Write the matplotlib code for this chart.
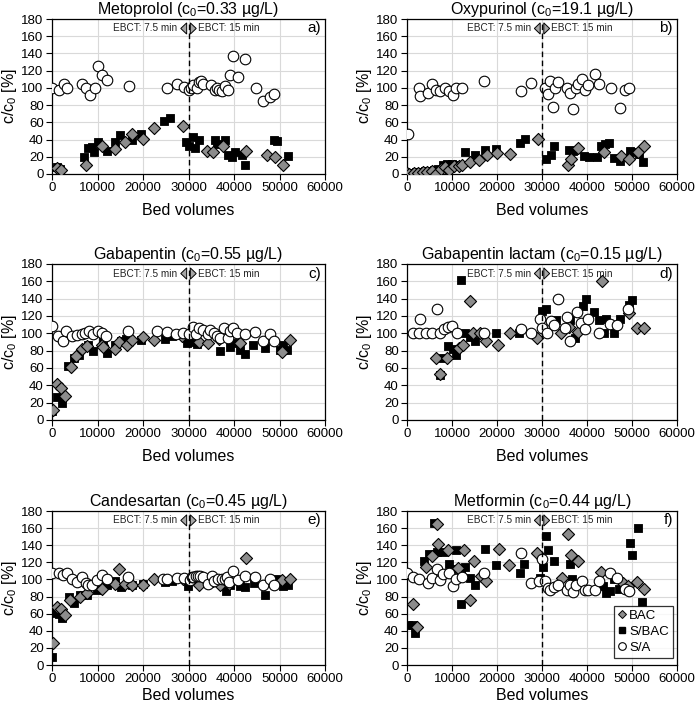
import matplotlib
matplotlib.use("Agg")
import matplotlib.pyplot as plt
from matplotlib.patches import Polygon
from matplotlib.lines import Line2D

plt.rcParams['font.family'] = ['Liberation Sans', 'DejaVu Sans']
plt.rcParams['mathtext.fontset'] = 'custom'
plt.rcParams['mathtext.rm'] = 'Liberation Sans'
plt.rcParams['mathtext.it'] = 'Liberation Sans:italic'

# ---------------- data ----------------
titles = ["Metoprolol (c$_0$=0.33 µg/L)", "Oxypurinol (c$_0$=19.1 µg/L)",
          "Gabapentin (c$_0$=0.55 µg/L)", "Gabapentin lactam (c$_0$=0.15 µg/L)",
          "Candesartan (c$_0$=0.45 µg/L)", "Metformin (c$_0$=0.44 µg/L)"]
panel_labels = ["a)", "b)", "c)", "d)", "e)", "f)"]
series_names = ["BAC", "S/BAC", "S/A"]

# a) Metoprolol
a_sa_x = [0, 1500, 2600, 3200, 6500, 7400, 8300, 9500, 10000, 11000, 12000, 17000, 25200, 27400, 29000, 30000, 30500, 31000, 31800, 32400, 32700, 33200, 35000, 35800, 36300, 36700, 37300, 38000, 38700, 39100, 39800, 40900, 42400, 44800, 46300, 47900, 48900]
a_sa_y = [100, 97, 104, 100, 105, 100, 92, 100, 126, 115, 109, 102, 100, 105, 101, 98, 100, 103, 100, 107, 108, 105, 103, 98, 100, 97, 96, 102, 97, 115, 137, 113, 133, 100, 85, 89, 93]
a_bac_x = [1000, 2000, 7400, 10900, 13800, 16000, 17500, 20000, 22500, 28700, 34100, 35400, 37600, 42600, 47200, 49000, 50700]
a_bac_y = [7, 5, 10, 33, 29, 37, 46, 41, 53, 56, 27, 26, 32, 27, 22, 20, 10]
a_sbac_x = [1100, 1700, 7000, 7900, 8900, 9200, 10000, 12000, 13800, 15000, 17500, 19500, 24700, 26000, 29400, 30100, 31000, 31500, 32300, 35800, 36200, 38000, 38700, 39500, 40200, 41800, 42500, 48900, 49400, 51900]
a_sbac_y = [8, 6, 20, 30, 31, 26, 37, 27, 37, 45, 40, 47, 61, 65, 37, 33, 43, 30, 40, 40, 35, 40, 22, 20, 26, 22, 10, 40, 38, 21]

# b) Oxypurinol
b_sa_x = [200, 2600, 3000, 4600, 5600, 6500, 7400, 8400, 9300, 10200, 10900, 12200, 17000, 25400, 27600, 30700, 31300, 31800, 32400, 32800, 33500, 35600, 36200, 36900, 37600, 38100, 38900, 39600, 40200, 41700, 42700, 45300, 47400, 48400, 49300]
b_sa_y = [47, 100, 91, 94, 105, 98, 96, 100, 96, 92, 100, 100, 108, 96, 106, 100, 93, 108, 78, 100, 107, 100, 94, 75, 100, 105, 110, 98, 103, 116, 105, 100, 77, 97, 100]
b_bac_x = [0, 500, 1500, 2500, 3500, 4500, 5500, 6400, 7500, 8500, 9300, 10500, 11500, 12200, 14000, 16100, 17800, 20000, 22800, 29100, 35800, 36500, 38100, 43700, 47600, 49400, 51300, 52600]
b_bac_y = [1, 0, 1, 1, 2, 2, 3, 0, 6, 8, 5, 9, 9, 10, 14, 16, 22, 24, 23, 41, 11, 17, 30, 25, 21, 18, 26, 32]
b_sbac_x = [0, 1000, 2000, 3000, 4000, 5000, 6000, 7000, 8000, 9000, 10000, 11000, 12800, 15200, 17400, 19700, 25000, 26300, 30900, 31900, 32600, 35900, 36800, 39300, 40400, 42200, 43200, 44100, 44800, 46100, 47400, 49600, 50600, 51500, 52400]
b_sbac_y = [1, 1, 2, 2, 3, 4, 5, 6, 10, 12, 12, 10, 25, 22, 28, 29, 36, 41, 17, 22, 33, 28, 27, 21, 20, 20, 32, 35, 36, 19, 15, 27, 25, 23, 14]

# c) Gabapentin
c_sa_x = [0, 1300, 2400, 3000, 4500, 5500, 6500, 7200, 8100, 9000, 10000, 10900, 11800, 16700, 23000, 25200, 27200, 28700, 30000, 30900, 31600, 32400, 33100, 34300, 34700, 35700, 36200, 36900, 37800, 38600, 39100, 39800, 40700, 42500, 44700, 46400, 47900, 48800]
c_sa_y = [108, 97, 91, 103, 97, 98, 99, 100, 103, 99, 103, 100, 97, 103, 103, 101, 99, 100, 99, 107, 99, 106, 104, 99, 104, 100, 97, 95, 106, 95, 103, 106, 100, 99, 102, 91, 99, 91]
c_bac_x = [200, 1100, 1900, 2800, 4100, 5200, 6700, 7700, 10900, 11200, 13800, 14700, 16400, 17500, 20000, 22400, 28500, 32300, 34200, 36600, 41300, 50500, 52300]
c_bac_y = [11, 42, 37, 28, 61, 74, 82, 85, 87, 84, 82, 90, 87, 92, 96, 92, 97, 90, 89, 93, 89, 78, 92]
c_sbac_x = [0, 1000, 2200, 3500, 4800, 6000, 7900, 9000, 11200, 12000, 13800, 15200, 16200, 19600, 24800, 26300, 29700, 30700, 31800, 36900, 39100, 40200, 41300, 42400, 44200, 46800, 50000, 50700, 51600]
c_sbac_y = [10, 26, 20, 62, 71, 75, 87, 80, 91, 77, 86, 91, 93, 92, 94, 97, 89, 90, 88, 80, 84, 89, 81, 76, 87, 83, 81, 87, 81]

# d) Gabapentin lactam
d_sa_x = [1300, 2600, 3000, 4300, 5600, 6700, 7400, 8300, 9100, 10000, 11100, 17000, 25400, 27600, 29500, 30100, 31100, 31900, 32600, 33500, 35000, 35600, 36200, 37800, 38700, 39600, 40200, 42600, 45000, 46700, 49100]
d_sa_y = [100, 100, 117, 100, 100, 128, 100, 105, 107, 109, 100, 100, 105, 100, 116, 106, 100, 114, 110, 140, 106, 119, 91, 125, 112, 105, 116, 100, 111, 110, 128]
d_bac_x = [6400, 7400, 8900, 11500, 12400, 13900, 14600, 16300, 17600, 20200, 22800, 28900, 34200, 36100, 38100, 43300, 49400, 51100, 52700]
d_bac_y = [71, 53, 72, 83, 87, 137, 100, 100, 91, 87, 100, 95, 100, 107, 102, 160, 124, 106, 106]
d_sbac_x = [7400, 8000, 9100, 10200, 10900, 12000, 13000, 14100, 15200, 19800, 24800, 30100, 30900, 33100, 36200, 37400, 39100, 39800, 41600, 42700, 43700, 44200, 46100, 47400, 49300, 50000]
d_sbac_y = [52, 72, 85, 82, 75, 162, 100, 96, 91, 100, 100, 126, 128, 115, 115, 95, 131, 140, 125, 115, 100, 117, 100, 116, 133, 139]

# e) Candesartan
e_sa_x = [0, 1500, 2400, 3200, 4300, 5500, 6500, 7400, 7900, 8900, 9900, 10900, 12000, 16700, 24400, 25200, 27400, 29000, 30300, 30700, 31000, 31600, 32100, 32500, 33100, 34300, 35200, 35700, 36400, 37300, 38000, 38400, 38900, 39800, 40900, 42400, 44700, 46300, 47900, 48800]
e_sa_y = [107, 107, 105, 107, 101, 97, 103, 96, 93, 94, 99, 105, 101, 103, 101, 101, 102, 102, 99, 103, 103, 104, 104, 104, 103, 95, 104, 98, 101, 100, 101, 103, 97, 110, 99, 104, 103, 94, 101, 93]
e_bac_x = [200, 1100, 1900, 2800, 3900, 6100, 7700, 10900, 13800, 14700, 16000, 17500, 19900, 22400, 28700, 32300, 35400, 36900, 38900, 42700, 50500, 52200]
e_bac_y = [26, 68, 66, 59, 76, 80, 84, 89, 95, 112, 95, 93, 94, 101, 101, 93, 98, 93, 95, 125, 99, 101]
e_sbac_x = [0, 700, 1500, 2200, 3700, 4800, 6200, 7600, 9800, 12000, 13800, 15100, 17500, 20000, 24800, 26300, 29900, 32300, 38200, 39100, 41300, 42500, 44300, 46800, 49200, 50700, 51900]
e_sbac_y = [9, 61, 60, 55, 80, 73, 82, 82, 88, 94, 98, 91, 94, 95, 97, 98, 92, 97, 87, 94, 92, 91, 96, 82, 101, 92, 94]

# f) Metformin
f_sa_x = [0, 1300, 2600, 4600, 5600, 6700, 7400, 8100, 9400, 10200, 10900, 12200, 17000, 25400, 27600, 29300, 30100, 30700, 31300, 31800, 32600, 33500, 35600, 36200, 36900, 37600, 38900, 39600, 40200, 41700, 42700, 45200, 46700, 48400, 49300]
f_sa_y = [107, 103, 101, 96, 102, 112, 99, 106, 107, 92, 101, 103, 107, 131, 96, 98, 124, 98, 90, 88, 91, 93, 88, 94, 85, 93, 98, 88, 88, 88, 98, 108, 102, 89, 87]
f_bac_x = [1300, 2200, 4200, 5600, 6700, 7000, 9100, 11300, 12600, 13900, 14800, 16500, 17600, 20400, 22700, 28900, 34400, 35800, 36400, 38000, 43100, 47900, 49100, 51000, 52700]
f_bac_y = [71, 45, 114, 127, 165, 142, 134, 113, 134, 76, 122, 104, 98, 136, 117, 131, 102, 153, 129, 122, 109, 96, 92, 97, 89]
f_sbac_x = [200, 1300, 1700, 3700, 4800, 6100, 6700, 8000, 9300, 10100, 10900, 11900, 12000, 12800, 14100, 15200, 17400, 19700, 25000, 26100, 29500, 30200, 30900, 31300, 32600, 36200, 36700, 43500, 44200, 45200, 46100, 47200, 49500, 50000, 51300, 52200]
f_sbac_y = [47, 47, 37, 122, 130, 166, 132, 132, 118, 112, 134, 109, 71, 115, 102, 94, 136, 117, 108, 118, 102, 114, 151, 134, 122, 118, 101, 92, 84, 87, 101, 89, 143, 128, 160, 74]

panels = [
    (a_bac_x, a_bac_y, a_sbac_x, a_sbac_y, a_sa_x, a_sa_y),
    (b_bac_x, b_bac_y, b_sbac_x, b_sbac_y, b_sa_x, b_sa_y),
    (c_bac_x, c_bac_y, c_sbac_x, c_sbac_y, c_sa_x, c_sa_y),
    (d_bac_x, d_bac_y, d_sbac_x, d_sbac_y, d_sa_x, d_sa_y),
    (e_bac_x, e_bac_y, e_sbac_x, e_sbac_y, e_sa_x, e_sa_y),
    (f_bac_x, f_bac_y, f_sbac_x, f_sbac_y, f_sa_x, f_sa_y),
]

switch_bv = 30000
ebct_left = "EBCT: 7.5 min"
ebct_right = "EBCT: 15 min"

# ---------------- figure ----------------
W, H = 698, 708
fig = plt.figure(figsize=(W / 100, H / 100), dpi=100)

col_lr = [(52, 325), (407, 677)]
row_tb = [(19, 174), (264, 420), (511, 665)]
xlabel_pads = [6, 6, 2]

GRAY = '#8c8c8c'

for i, (title, lab, data) in enumerate(zip(titles, panel_labels, panels)):
    r, c = divmod(i, 2)
    l, rr = col_lr[c]
    t, b = row_tb[r]
    ax = fig.add_axes([l / W, 1 - b / H, (rr - l) / W, (b - t) / H])
    bx, by, sx, sy, ox, oy = data

    ax.scatter(sx, sy, marker='s', s=34, facecolor='black', edgecolor='black',
               linewidth=0.6, zorder=3)
    ax.scatter(bx, by, marker='D', s=38, facecolor=GRAY, edgecolor='black',
               linewidth=0.8, zorder=4)
    ax.scatter(ox, oy, marker='o', s=58, facecolor='white', edgecolor='black',
               linewidth=0.8, zorder=5)

    ax.set_xlim(0, 60000)
    ax.set_ylim(0, 180)
    ax.set_xticks(range(0, 60001, 10000))
    ax.set_yticks(range(0, 181, 20))
    ax.grid(True, color='#d9d9d9', linewidth=0.8, zorder=0)
    ax.set_axisbelow(True)
    ax.tick_params(direction='out', length=4, width=0.8, labelsize=9.5, pad=2)
    for sp in ax.spines.values():
        sp.set_linewidth(0.9)
        sp.set_color('black')

    ax.set_title(title, fontsize=11.5, pad=2)
    ax.set_ylabel("c/c$_0$ [%]", fontsize=11.5, labelpad=2)
    ax.set_xlabel("Bed volumes", fontsize=11.5, labelpad=xlabel_pads[r])

    # EBCT switch
    ax.plot([switch_bv, switch_bv], [0, 175], linestyle=(0, (4, 2.5)),
            color='black', linewidth=1.0, zorder=6)
    yy = 169
    ax.add_patch(Polygon([(switch_bv - 400, yy - 6.5), (switch_bv - 400, yy + 6.5),
                          (switch_bv - 1700, yy)], closed=True,
                         facecolor='#a6a6a6', edgecolor='black', linewidth=0.7, zorder=7))
    ax.add_patch(Polygon([(switch_bv + 400, yy - 6.5), (switch_bv + 400, yy + 6.5),
                          (switch_bv + 1700, yy)], closed=True,
                         facecolor='#a6a6a6', edgecolor='black', linewidth=0.7, zorder=7))
    ax.text(switch_bv - 2400, yy, ebct_left, ha='right', va='center',
            fontsize=7.2, color='#222222', zorder=8)
    ax.text(switch_bv + 2100, yy, ebct_right, ha='left', va='center',
            fontsize=7.2, color='#222222', zorder=8)
    ax.text(0.985, yy, lab, transform=ax.get_yaxis_transform(), ha='right',
            va='center', fontsize=11, zorder=8)

    if i == 5:
        handles = [
            Line2D([], [], linestyle='none', marker='D', markersize=4.5,
                   markerfacecolor=GRAY, markeredgecolor='black', markeredgewidth=0.7),
            Line2D([], [], linestyle='none', marker='s', markersize=4.5,
                   markerfacecolor='black', markeredgecolor='black'),
            Line2D([], [], linestyle='none', marker='o', markersize=5.5,
                   markerfacecolor='white', markeredgecolor='black', markeredgewidth=0.8),
        ]
        leg = ax.legend(handles, series_names, loc='lower right',
                        bbox_to_anchor=(0.985, 0.045), bbox_transform=ax.transAxes,
                        borderaxespad=0.0, fontsize=9.5, frameon=True,
                        fancybox=False, edgecolor='black', handlelength=0.6,
                        handletextpad=0.25, borderpad=0.3, labelspacing=0.3)
        leg.get_frame().set_linewidth(0.9)
        leg.set_zorder(10)

fig.savefig("out.png", dpi=100)
